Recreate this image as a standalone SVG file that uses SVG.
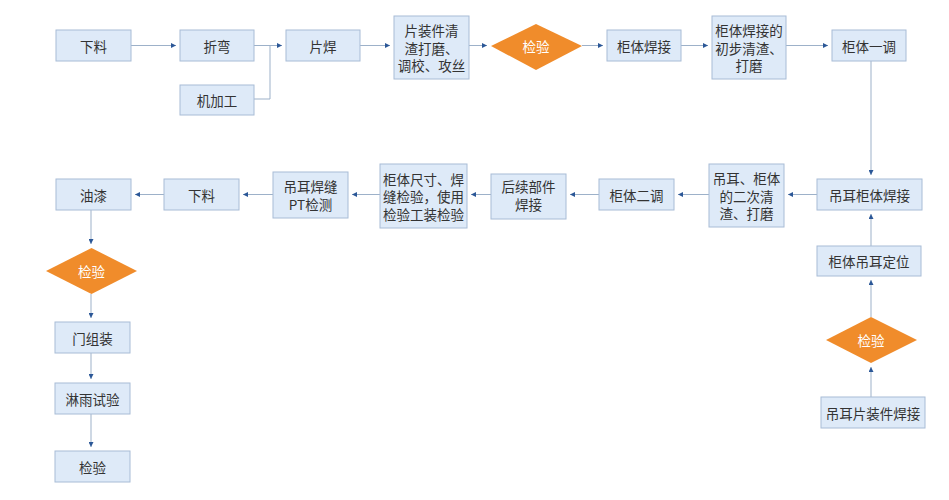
<svg xmlns="http://www.w3.org/2000/svg" width="949" height="500" viewBox="0 0 949 500">
<defs>
<marker id="ah" viewBox="0 0 6 6" refX="6" refY="3" markerWidth="5" markerHeight="5" markerUnits="userSpaceOnUse" orient="auto">
<path d="M0,0 L6,3 L0,6 Z" fill="#2b5797"/>
</marker>
<style>
.b{fill:#deeaf8;stroke:#a8bcd6;stroke-width:1}
.d{fill:#f08c2b;stroke:none}
.t{font-family:"Noto Sans CJK SC","Liberation Sans",sans-serif;font-size:13.5px;fill:#333;text-anchor:middle;dominant-baseline:central}
.w{fill:#fff}
.c{fill:none;stroke:#9db1c9;stroke-width:1}
.a{marker-end:url(#ah)}
</style>
</defs>
<rect width="949" height="500" fill="#fff"/>
<g id="connectors">
<path class="c a" d="M131,45.5 H176"/>
<path class="c a" d="M254,45.5 H282"/>
<path class="c" d="M254,99 H270 V45.5"/>
<path class="c a" d="M360,45.5 H390"/>
<path class="c a" d="M469,45.5 H487"/>
<path class="c a" d="M582,45.5 H603"/>
<path class="c a" d="M681,45.5 H708"/>
<path class="c a" d="M786,45.5 H828"/>
<path class="c a" d="M871,61 V175"/>
<path class="c a" d="M871,246 V214"/>
<path class="c a" d="M871,317 V280"/>
<path class="c a" d="M871,397 V367"/>
<path class="c a" d="M817,194.5 H788"/>
<path class="c a" d="M709,194.5 H678"/>
<path class="c a" d="M599,194.5 H570"/>
<path class="c a" d="M491,194.5 H471"/>
<path class="c a" d="M380,194.5 H352"/>
<path class="c a" d="M273,194.5 H243"/>
<path class="c a" d="M164,194.5 H135"/>
<path class="c a" d="M91,210 V244"/>
<path class="c a" d="M91,294 V318"/>
<path class="c a" d="M91,353 V379"/>
<path class="c a" d="M91,414 V447"/>
</g>
<g id="n1"><rect class="b" x="56" y="30" width="75" height="31"/><text class="t" x="93.5" y="45.5">下料</text></g>
<g id="n2"><rect class="b" x="180" y="30" width="74" height="31"/><text class="t" x="217" y="45.5">折弯</text></g>
<g id="n3"><rect class="b" x="180" y="85" width="74" height="30"/><text class="t" x="217" y="100">机加工</text></g>
<g id="n4"><rect class="b" x="286" y="30" width="74" height="31"/><text class="t" x="323" y="45.5">片焊</text></g>
<g id="n5"><rect class="b" x="394" y="16" width="75" height="63"/><text class="t" x="431.5" y="30">片装件清</text><text class="t" x="431.5" y="47.5">渣打磨、</text><text class="t" x="431.5" y="65">调校、攻丝</text></g>
<g id="n6"><path class="d" d="M536,24 L582,46 L536,70 L491,46 Z"/><text class="t w" x="536" y="46">检验</text></g>
<g id="n7"><rect class="b" x="607" y="30" width="74" height="31"/><text class="t" x="644" y="45.5">柜体焊接</text></g>
<g id="n8"><rect class="b" x="712" y="16" width="74" height="63"/><text class="t" x="749" y="30">柜体焊接的</text><text class="t" x="749" y="47.5">初步清渣、</text><text class="t" x="749" y="65">打磨</text></g>
<g id="n9"><rect class="b" x="832" y="30" width="74" height="31"/><text class="t" x="869" y="45.5">柜体一调</text></g>
<g id="n10"><rect class="b" x="817" y="179" width="105" height="31"/><text class="t" x="869.5" y="194.5">吊耳柜体焊接</text></g>
<g id="n11"><rect class="b" x="817" y="246" width="104" height="30"/><text class="t" x="869" y="261">柜体吊耳定位</text></g>
<g id="n12"><path class="d" d="M871,317 L917,340 L871,363 L826,340 Z"/><text class="t w" x="871" y="340">检验</text></g>
<g id="n13"><rect class="b" x="821" y="397" width="104" height="31"/><text class="t" x="873" y="412.5">吊耳片装件焊接</text></g>
<g id="n14"><rect class="b" x="709" y="164" width="75" height="63"/><text class="t" x="746.5" y="178">吊耳、柜体</text><text class="t" x="746.5" y="195.5">的二次清</text><text class="t" x="746.5" y="213">渣、打磨</text></g>
<g id="n15"><rect class="b" x="599" y="179" width="75" height="31"/><text class="t" x="636.5" y="194.5">柜体二调</text></g>
<g id="n16"><rect class="b" x="491" y="174" width="75" height="45"/><text class="t" x="528.5" y="186">后续部件</text><text class="t" x="528.5" y="204">焊接</text></g>
<g id="n17"><rect class="b" x="380" y="164" width="87" height="64"/><text class="t" x="423.5" y="178.5">柜体尺寸、焊</text><text class="t" x="423.5" y="196">缝检验，使用</text><text class="t" x="423.5" y="213.5">检验工装检验</text></g>
<g id="n18"><rect class="b" x="273" y="172" width="75" height="46"/><text class="t" x="310.5" y="186">吊耳焊缝</text><text class="t" x="310.5" y="204">PT检测</text></g>
<g id="n19"><rect class="b" x="164" y="179" width="75" height="31"/><text class="t" x="201.5" y="194.5">下料</text></g>
<g id="n20"><rect class="b" x="56" y="179" width="75" height="31"/><text class="t" x="93.5" y="194.5">油漆</text></g>
<g id="n21"><path class="d" d="M91.5,248 L137,271 L91.5,294 L46,271 Z"/><text class="t w" x="91.5" y="271">检验</text></g>
<g id="n22"><rect class="b" x="55" y="322" width="75" height="31"/><text class="t" x="92.5" y="337.5">门组装</text></g>
<g id="n23"><rect class="b" x="55" y="383" width="75" height="31"/><text class="t" x="92.5" y="398.5">淋雨试验</text></g>
<g id="n24"><rect class="b" x="55" y="451" width="75" height="31"/><text class="t" x="92.5" y="466.5">检验</text></g>
</svg>
